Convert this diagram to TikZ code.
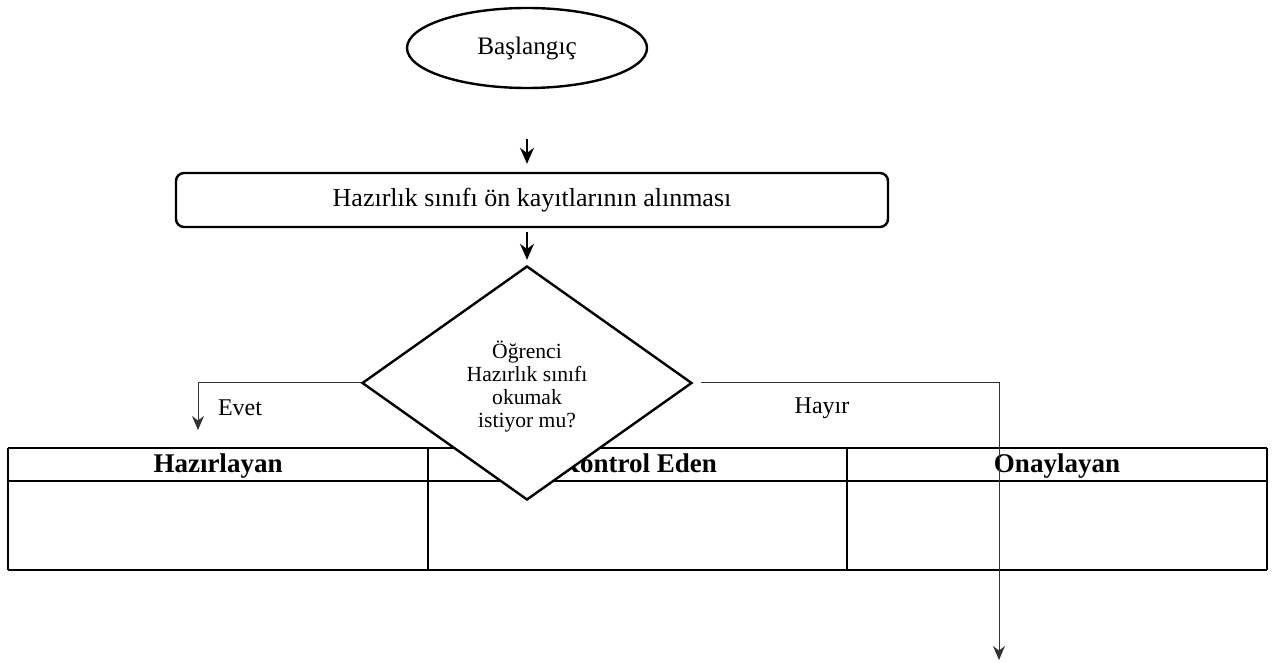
\documentclass[tikz,border=0pt]{standalone}
\usepackage{fontspec}
\setmainfont{Liberation Serif}
\usetikzlibrary{shapes.geometric,arrows.meta,positioning}

\begin{document}
\begin{tikzpicture}[x=0.5pt,y=-0.5pt,
    every node/.style={font=\fontsize{12}{11.5}\selectfont},
    ok/.style={-{Stealth[length=8pt,width=7pt]}, line width=0.9pt},
    ince/.style={-{Stealth[length=7pt,width=6pt]}, line width=0.5pt, draw=black!80},
    kutu/.style={draw, line width=1.2pt},
    kalin/.style={line width=1.4pt},
    baslik/.style={anchor=base, font=\fontsize{13.5}{14}\selectfont\bfseries}]
    \useasboundingbox (0,0) rectangle (1276,663);
    % tablo
    \draw[line width=0.8pt] (8,448) -- (8,570) (428,448) -- (428,570) (847,448) -- (847,570) (1267,448) -- (1267,570);
    \draw[kalin] (8,448) -- (1267,448) (8,481) -- (1267,481) (8,570) -- (1267,570);
    \node[baslik] (haz) at (218,473) {Hazırlayan};
    \node[baslik] (kon) at (638,473) {Kontrol Eden};
    \node[baslik] (ona) at (1057,473) {Onaylayan};
    % akis
    \node[ellipse, kutu, minimum width=120pt, minimum height=40pt, font=\fontsize{12.6}{14}\selectfont] (bas) at (527,48) {Başlangıç};
    \node[kutu, rounded corners=4pt, minimum width=356pt, minimum height=27pt, font=\fontsize{13}{14}\selectfont] (kayit) at (532,200) {Hazırlık sınıfı ön kayıtlarının alınması};
    \node[diamond, kutu, fill=white, minimum width=165pt, minimum height=117pt, inner sep=0pt] (karar) at (527,383) {};
    \node[align=center, font=\fontsize{10.8}{11.5}\selectfont] (soru) at (527,387) {Öğrenci\\Hazırlık sınıfı\\okumak\\istiyor mu?};
    \coordinate (evet) at (198,430);
    \coordinate (hayir) at (999,660);
    \draw[ok, shorten <=25pt, shorten >=4pt] (bas) -- (bas |- kayit.north);
    \draw[ok, shorten <=2pt, shorten >=2.5pt] (kayit.south -| karar) -- (karar);
    \draw[ince] (karar.west) -| (evet);
    \draw[ince] ([xshift=4pt]karar.east) -| (hayir);
    \node (evetyazi) at (240,408) {Evet};
    \node (hayiryazi) at (822,408) {Hayır};
\end{tikzpicture}
\end{document}
